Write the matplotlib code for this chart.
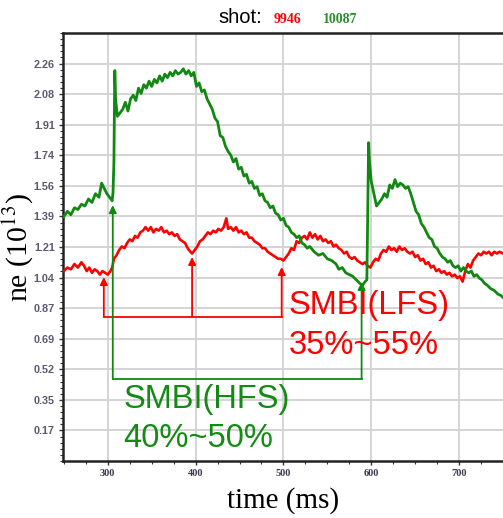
import matplotlib
matplotlib.use("Agg")
import matplotlib.pyplot as plt
from matplotlib.ticker import MultipleLocator, FixedLocator

plt.rcParams["mathtext.fontset"] = "stix"

# ---------------- data ----------------
green_t = [250, 254, 258, 262, 266, 270, 274, 278, 282, 286, 290, 293, 296, 299, 302, 305,
           306, 307, 308, 309, 311, 314, 317, 320, 323, 326, 329, 332, 335, 338, 341, 344,
           347, 350, 353, 356, 359, 362, 365, 368, 371, 374, 377, 380, 383, 386, 389, 392,
           395, 398, 401, 404, 407, 410, 413, 416, 419, 422, 425, 428, 431, 434, 437, 440,
           443, 446, 449, 452, 455, 458, 461, 464, 467, 470, 473, 476, 479, 482, 485, 488,
           491, 494, 497, 500, 503, 506, 509, 512, 515, 518, 521, 524, 527, 530, 535, 540,
           545, 550, 555, 560, 563, 567, 571, 575, 579, 583, 587, 590, 593, 595, 596, 597,
           598, 600, 603, 606, 609, 612, 615, 618, 621, 624, 627, 630, 633, 636, 639, 642,
           645, 648, 651, 654, 657, 660, 663, 666, 669, 672, 675, 678, 681, 684, 687, 690,
           693, 696, 699, 702, 705, 708, 711, 714, 717, 720, 723, 726, 729, 732, 736, 740,
           744, 748, 750]
green_ne = [1.39, 1.42, 1.40, 1.44, 1.43, 1.46, 1.45, 1.49, 1.47, 1.52, 1.50, 1.58, 1.55, 1.52, 1.50, 1.48,
            1.53, 1.70, 2.22, 2.05, 1.96, 1.98, 2.00, 2.04, 1.99, 2.06, 2.08, 2.05, 2.12, 2.09, 2.14, 2.12,
            2.16, 2.13, 2.17, 2.15, 2.19, 2.16, 2.20, 2.18, 2.21, 2.19, 2.22, 2.20, 2.21, 2.23, 2.20, 2.22,
            2.19, 2.21, 2.13, 2.15, 2.10, 2.11, 2.06, 2.03, 2.00, 1.95, 1.93, 1.85, 1.84, 1.79, 1.76, 1.74,
            1.70, 1.72, 1.66, 1.67, 1.62, 1.63, 1.58, 1.59, 1.55, 1.56, 1.51, 1.52, 1.48, 1.47, 1.44, 1.45,
            1.41, 1.40, 1.37, 1.38, 1.34, 1.33, 1.30, 1.29, 1.27, 1.28, 1.24, 1.23, 1.21, 1.22, 1.19, 1.17,
            1.18, 1.15, 1.14, 1.12, 1.09, 1.10, 1.07, 1.06, 1.05, 1.03, 1.01, 1.00, 1.02, 1.03, 1.40, 1.81,
            1.70, 1.59, 1.52, 1.45, 1.47, 1.49, 1.52, 1.50, 1.57, 1.55, 1.60, 1.56, 1.58, 1.57, 1.55, 1.56,
            1.52, 1.47, 1.42, 1.40, 1.35, 1.33, 1.30, 1.27, 1.26, 1.22, 1.21, 1.18, 1.16, 1.15, 1.13, 1.14,
            1.11, 1.10, 1.11, 1.08, 1.10, 1.08, 1.07, 1.08, 1.05, 1.06, 1.04, 1.03, 1.01, 1.00, 0.98, 0.97,
            0.95, 0.94, 0.93]

red_t = [250, 254, 258, 262, 266, 270, 273, 276, 279, 282, 285, 288, 291, 294, 297, 300,
         303, 305, 307, 310, 313, 316, 319, 322, 325, 328, 331, 334, 337, 340, 343, 346,
         349, 352, 355, 358, 361, 364, 367, 370, 373, 376, 379, 382, 385, 388, 391, 394,
         396, 399, 402, 405, 408, 411, 414, 417, 420, 423, 426, 429, 432, 435, 437, 440,
         443, 446, 449, 452, 455, 458, 461, 464, 467, 470, 473, 476, 479, 482, 485, 488,
         491, 494, 497, 500, 503, 506, 509, 512, 515, 518, 521, 524, 527, 530, 533, 536,
         539, 542, 545, 548, 551, 554, 557, 560, 563, 566, 569, 572, 575, 578, 581, 584,
         587, 590, 593, 596, 599, 602, 605, 608, 611, 614, 617, 620, 623, 626, 629, 632,
         635, 638, 641, 644, 647, 650, 653, 656, 659, 662, 665, 668, 671, 674, 677, 680,
         683, 686, 689, 692, 695, 698, 701, 704, 707, 710, 713, 716, 719, 722, 725, 728,
         731, 734, 737, 740, 743, 746, 750]
red_ne = [1.08, 1.10, 1.09, 1.12, 1.10, 1.13, 1.11, 1.08, 1.10, 1.07, 1.09, 1.08, 1.06, 1.08, 1.07, 1.06,
          1.08, 1.10, 1.15, 1.17, 1.20, 1.22, 1.21, 1.24, 1.26, 1.25, 1.28, 1.27, 1.30, 1.31, 1.33, 1.31,
          1.33, 1.30, 1.32, 1.31, 1.33, 1.30, 1.31, 1.29, 1.30, 1.28, 1.29, 1.26, 1.25, 1.24, 1.21, 1.19,
          1.18, 1.20, 1.22, 1.25, 1.26, 1.28, 1.30, 1.29, 1.31, 1.30, 1.32, 1.31, 1.33, 1.38, 1.32, 1.33,
          1.31, 1.33, 1.30, 1.31, 1.29, 1.30, 1.27, 1.27, 1.25, 1.24, 1.23, 1.21, 1.21, 1.19, 1.18, 1.17,
          1.16, 1.15, 1.15, 1.14, 1.16, 1.18, 1.21, 1.20, 1.25, 1.24, 1.27, 1.28, 1.26, 1.30, 1.27, 1.29,
          1.26, 1.28, 1.25, 1.26, 1.24, 1.25, 1.22, 1.23, 1.21, 1.20, 1.18, 1.19, 1.16, 1.15, 1.16, 1.14,
          1.13, 1.12, 1.13, 1.11, 1.10, 1.13, 1.15, 1.14, 1.18, 1.20, 1.19, 1.22, 1.20, 1.21, 1.19, 1.22,
          1.20, 1.21, 1.19, 1.18, 1.19, 1.16, 1.17, 1.14, 1.15, 1.12, 1.13, 1.10, 1.11, 1.08, 1.09, 1.07,
          1.08, 1.06, 1.07, 1.05, 1.06, 1.04, 1.05, 1.02, 1.08, 1.12, 1.10, 1.14, 1.16, 1.18, 1.17, 1.19,
          1.18, 1.19, 1.17, 1.19, 1.18, 1.19, 1.18]

x_ticks = [300, 400, 500, 600, 700]
y_tick_labels = ["0.17", "0.35", "0.52", "0.69", "0.87", "1.04", "1.21",
                 "1.39", "1.56", "1.74", "1.91", "2.08", "2.26"]
y_step = 2.26 / 13

# annotation anchors (time, ne)
lfs_times = [295.5, 396, 498]
lfs_tips = [1.046, 1.160, 1.103]
lfs_base = 0.819
hfs_times = [305.7, 589]
hfs_tips = [1.455, 1.018]
hfs_base = 0.468

RED = "#ff0000"
GREEN = "#118811"
TXT_GREEN = "#138a13"

# ---------------- figure ----------------
fig = plt.figure(figsize=(5.03, 5.18), dpi=100)
ax = fig.add_axes([0.1252, 0.110, 0.8748, 0.8263])

ax.plot(red_t, red_ne, color=RED, lw=1.9, zorder=3)
ax.plot(green_t, green_ne, color=GREEN, lw=2.0, zorder=3)

ax.set_xlim(249, 750)
ax.set_ylim(0, 14 * y_step)

ax.xaxis.set_major_locator(FixedLocator(x_ticks))
ax.xaxis.set_minor_locator(MultipleLocator(25))
yt = [(i + 1) * y_step for i in range(len(y_tick_labels))]
ax.set_yticks(yt)
ax.set_yticklabels(y_tick_labels)
ax.yaxis.set_minor_locator(MultipleLocator(y_step / 5))

ax.grid(True, which="major", color="#d4d4d4", lw=1.4, zorder=0)
ax.set_axisbelow(True)

for s in ["left", "bottom", "top"]:
    ax.spines[s].set_linewidth(1.8)
    ax.spines[s].set_color("#222222")
ax.spines["right"].set_visible(False)

ax.tick_params(axis="both", which="major", length=3, width=1, color="#333333", pad=3)
ax.tick_params(axis="both", which="minor", length=2, width=0.8, color="#333333")
for lab in ax.get_yticklabels():
    lab.set_fontfamily("Liberation Sans")
    lab.set_fontsize(7.8)
    lab.set_fontweight("bold")
    lab.set_color("#5a5a72")
for lab in ax.get_xticklabels():
    lab.set_fontfamily("Liberation Serif")
    lab.set_fontsize(7.5)
    lab.set_fontweight("bold")
    lab.set_color("#3a3a50")

ax.set_xlabel("time (ms)", fontfamily="Liberation Serif", fontsize=21, labelpad=6)
fig.text(18 / 503, 1 - 248 / 518, r"ne (10$^{13}$)", fontfamily="Liberation Serif",
         fontsize=21.5, rotation=90, ha="center", va="center")

# title pieces
fig.text(0.435, 0.955, "shot:", fontfamily="Liberation Sans", fontsize=14.5, color="black",
         ha="left", va="baseline")
fig.text(0.543, 0.955, "9946", fontfamily="Liberation Serif", fontsize=10, fontweight="bold",
         color=RED, ha="left", va="baseline")
fig.text(0.642, 0.955, "10087", fontfamily="Liberation Serif", fontsize=10, fontweight="bold",
         color="#2e8b2e", ha="left", va="baseline")

# LFS arrows (red)
ax.plot([lfs_times[0], lfs_times[-1]], [lfs_base, lfs_base], color=RED, lw=1.3, zorder=4)
for t, tip in zip(lfs_times, lfs_tips):
    ax.annotate("", xy=(t, tip), xytext=(t, lfs_base),
                arrowprops=dict(arrowstyle="-|>", color=RED, lw=1.3, mutation_scale=11,
                                shrinkA=0, shrinkB=0), zorder=4)

# HFS arrows (green)
ax.plot([hfs_times[0], hfs_times[-1]], [hfs_base, hfs_base], color=GREEN, lw=1.3, zorder=4)
for t, tip in zip(hfs_times, hfs_tips):
    ax.annotate("", xy=(t, tip), xytext=(t, hfs_base),
                arrowprops=dict(arrowstyle="-|>", color=GREEN, lw=1.3, mutation_scale=11,
                                shrinkA=0, shrinkB=0), zorder=4)

ax.text(506, 0.836, "SMBI(LFS)", color=RED, fontfamily="Liberation Sans", fontsize=23.5,
        ha="left", va="baseline", zorder=5)
ax.text(506, 0.608, "35%~55%", color=RED, fontfamily="Liberation Sans", fontsize=23.5,
        ha="left", va="baseline", zorder=5)
ax.text(317.6, 0.303, "SMBI(HFS)", color=TXT_GREEN, fontfamily="Liberation Sans", fontsize=23.5,
        ha="left", va="baseline", zorder=5)
ax.text(317.6, 0.081, "40%~50%", color=TXT_GREEN, fontfamily="Liberation Sans", fontsize=23.5,
        ha="left", va="baseline", zorder=5)

fig.savefig("out.png", dpi=100)
